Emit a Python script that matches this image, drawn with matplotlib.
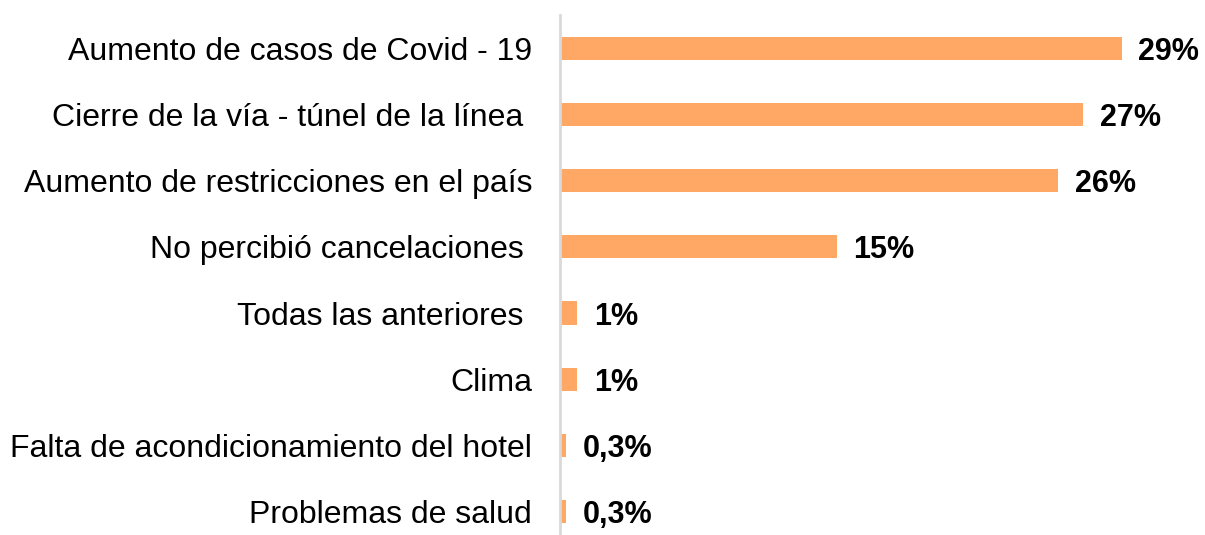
import matplotlib
matplotlib.use("Agg")
import matplotlib.pyplot as plt

plt.rcParams['font.family'] = ['Liberation Sans', 'DejaVu Sans']

categories = [
    "Aumento de casos de Covid - 19",
    "Cierre de la vía - túnel de la línea ",
    "Aumento de restricciones en el país",
    "No percibió cancelaciones ",
    "Todas las anteriores ",
    "Clima",
    "Falta de acondicionamiento del hotel",
    "Problemas de salud",
]
values = [29.0, 27.0, 25.7, 14.3, 0.9, 0.9, 0.3, 0.3]
value_labels = ["29%", "27%", "26%", "15%", "1%", "1%", "0,3%", "0,3%"]

fig = plt.figure(figsize=(12.05, 5.35), dpi=100)
ax = fig.add_axes([560 / 1205, 0, 645 / 1205, 1 - 15 / 535])

pos = list(range(len(categories)))
ax.barh(pos, values, height=0.35, color="#FFA866")
for p, v, lab in zip(pos, values, value_labels):
    ax.text(v + 0.85, p, lab, va="center_baseline", ha="left", fontsize=22, fontweight="bold")

ax.set_xlim(0, 29 * 645 / 562)
ax.set_ylim(7.35, -0.5)
ax.set_yticks(pos)
ax.set_yticklabels(categories, fontsize=23)
ax.tick_params(axis="y", length=0, pad=20)
ax.set_xticks([])
for s in ["top", "right", "bottom"]:
    ax.spines[s].set_visible(False)
ax.spines["left"].set_color("#D9D9D9")
ax.spines["left"].set_linewidth(2)

fig.savefig("out.png", dpi=100)
